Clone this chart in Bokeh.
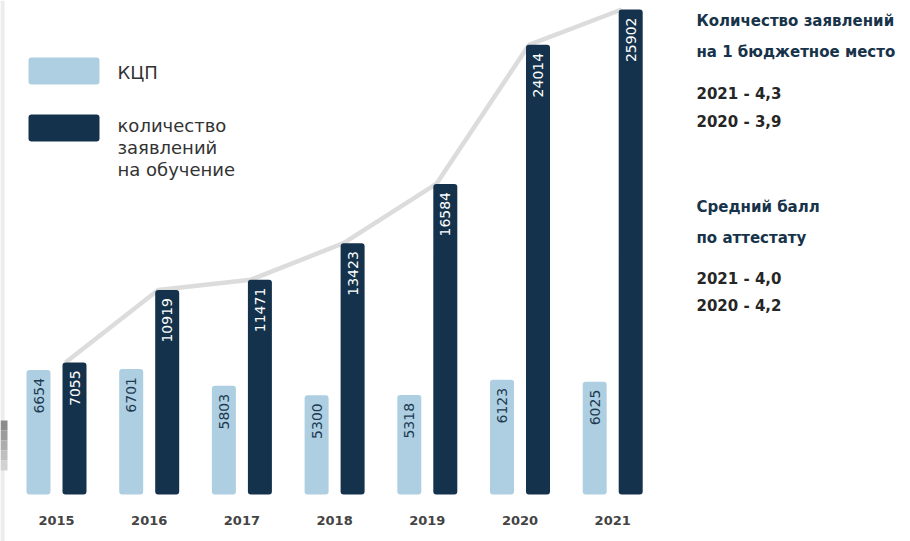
from math import pi
from bokeh.plotting import figure
from bokeh.models import ColumnDataSource, Range1d, Label, BoxAnnotation
from bokeh.core.properties import value
from bokeh.embed import file_html
from bokeh.resources import INLINE

years = ["2015", "2016", "2017", "2018", "2019", "2020", "2021"]
kcp = [6654, 6701, 5803, 5300, 5318, 6123, 6025]
applications = [7055, 10919, 11471, 13423, 16584, 24014, 25902]
legend_labels = ["КЦП", ["количество", "заявлений", "на обучение"]]
side_block1 = ["Количество заявлений", "на 1 бюджетное место"]
side_values1 = ["2021 - 4,3", "2020 - 3,9"]
side_block2 = ["Средний балл", "по аттестату"]
side_values2 = ["2021 - 4,0", "2020 - 4,2"]

LIGHT = "#aecfe1"
DARK = "#14324b"
FONT = "DejaVu Sans"

W, H = 910, 541
step = 92.7
x0px = 56.0
base_px = 494.0
top_px = 9.0
s = (base_px - top_px) / max(applications)


def X(px):
    return (px - x0px) / step


def Y(py):
    return (base_px - py) / s


p = figure(width=W, height=H, x_range=Range1d(X(0), X(W)), y_range=Range1d(Y(H), Y(0)),
           output_backend="svg", toolbar_location=None, min_border=0)
p.axis.visible = False
p.grid.visible = False
p.outline_line_color = None
p.background_fill_color = "white"

# left edge artifact
p.add_layout(BoxAnnotation(left=X(0), right=X(4), top=Y(0), bottom=Y(H), fill_color="#ececec",
                           fill_alpha=1, line_color=None))
grad = ["#8c8c8c", "#9c9c9c", "#adadad", "#bfbfbf", "#d2d2d2"]
for k, c in enumerate(grad):
    p.add_layout(BoxAnnotation(left=X(0), right=X(7), top=Y(420 + k * 10), bottom=Y(430 + k * 10),
                               fill_color=c, fill_alpha=1, line_color=None))

idx = list(range(len(years)))
off = 18.0 / step
bw = 24.0 / step
src = ColumnDataSource(dict(
    x=idx,
    xl=[i - off for i in idx],
    xd=[i + off for i in idx],
    xline=[i + off - 12.0 / step + 3.0 / step for i in idx],
    kcp=kcp,
    app=applications,
    kcp_lab=[str(v) for v in kcp],
    app_lab=[str(v) for v in applications],
    kcp_ty=[v - 8.0 / s for v in kcp],
    app_ty=[v - 8.0 / s for v in applications],
    year=years,
    year_y=[Y(520)] * len(years),
))

p.line(x="xline", y="app", source=src, line_color="#dcdcdc", line_width=4.5, line_join="round")
p.vbar(x="xl", top="kcp", bottom=0, width=bw, source=src, fill_color=LIGHT, line_color=None,
       border_radius=3)
p.vbar(x="xd", top="app", bottom=0, width=bw, source=src, fill_color=DARK, line_color=None,
       border_radius=3)

p.text(x="xl", y="kcp_ty", text="kcp_lab", source=src, angle=pi / 2, text_align="right",
       text_baseline="middle", text_font=value(FONT), text_font_size="14px", text_color="#1d3a52")
p.text(x="xd", y="app_ty", text="app_lab", source=src, angle=pi / 2, text_align="right",
       text_baseline="middle", text_font=value(FONT), text_font_size="14px", text_color="white")
p.text(x="x", y="year_y", text="year", source=src, text_align="center", text_baseline="middle",
       text_font=value(FONT), text_font_size="13px", text_font_style="bold", text_color="#444444")

# legend
p.add_layout(BoxAnnotation(left=X(28), right=X(99), top=Y(57), bottom=Y(84), fill_color=LIGHT,
                           fill_alpha=1, line_color=None, border_radius=3))
p.add_layout(BoxAnnotation(left=X(28), right=X(99), top=Y(114), bottom=Y(141), fill_color=DARK,
                           fill_alpha=1, line_color=None, border_radius=3))
p.add_layout(Label(x=X(117), y=Y(72), text=legend_labels[0], text_baseline="middle",
                   text_font=FONT, text_font_size="18px", text_color="#333333"))
for k, t in enumerate(legend_labels[1]):
    p.add_layout(Label(x=X(117), y=Y(125 + 22 * k), text=t, text_baseline="middle",
                       text_font=FONT, text_font_size="18px", text_color="#333333"))

# side notes
def side(text, py, color):
    p.add_layout(Label(x=X(696), y=Y(py), text=text, text_baseline="middle", text_font=FONT,
                       text_font_size="15px", text_font_style="bold", text_color=color))

HEAD = "#17334a"
NUM = "#262626"
side(side_block1[0], 20, HEAD)
side(side_block1[1], 51, HEAD)
side(side_values1[0], 93, NUM)
side(side_values1[1], 121, NUM)
side(side_block2[0], 206, HEAD)
side(side_block2[1], 237, HEAD)
side(side_values2[0], 278, NUM)
side(side_values2[1], 305, NUM)

open("out.html", "w").write(file_html(p, INLINE))
